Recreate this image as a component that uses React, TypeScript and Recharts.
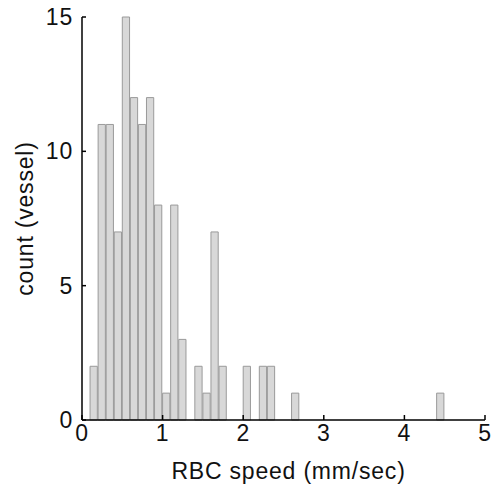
import React from "react";
import { BarChart, Bar, XAxis, YAxis, Label } from "recharts";

const binCenters = [0.15, 0.25, 0.35, 0.45, 0.55, 0.65, 0.75, 0.85, 0.95, 1.05, 1.15, 1.25, 1.45, 1.55, 1.65, 1.75, 2.05, 2.25, 2.35, 2.65, 4.45];
const counts = [2, 11, 11, 7, 15, 12, 11, 12, 8, 1, 8, 3, 2, 1, 7, 2, 2, 2, 2, 1, 1];
const xTicks = [0, 1, 2, 3, 4, 5];
const yTicks = [0, 5, 10, 15];
const xLabel = "RBC speed (mm/sec)";
const yLabel = "count (vessel)";

const data = binCenters.map((c, i) => ({ speed: c, count: counts[i] }));

const FONT = "'Liberation Sans', Arial, sans-serif";
const FS = 23;

export default function App() {
  return (
    <div style={{ position: "absolute", left: 0, top: 0 }}>
      <BarChart
        width={493}
        height={488}
        data={data}
        margin={{ top: 17, right: 8, bottom: 18, left: 0 }}
        barCategoryGap={0}
        barGap={0}
      >
        <XAxis
          dataKey="speed"
          type="number"
          domain={[0, 5]}
          ticks={xTicks}
          interval={0}
          height={50}
          allowDataOverflow
          tickSize={-5}
          tickMargin={10}
          stroke="#000"
          strokeWidth={1.5}
          tick={{ fill: "#111", fontSize: FS, fontFamily: FONT, letterSpacing: 0.8 }}
        >
          <Label
            content={(props: any) => {
              const vb = props.viewBox;
              return (
                <text
                  x={vb.x + vb.width / 2 + 5}
                  y={479}
                  textAnchor="middle"
                  fontSize={FS}
                  letterSpacing={0.8}
                  fontFamily={FONT}
                  fill="#111"
                >
                  {xLabel}
                </text>
              );
            }}
          />
        </XAxis>
        <YAxis
          type="number"
          domain={[0, 15]}
          ticks={yTicks}
          interval={0}
          width={82}
          tickSize={-4}
          tickMargin={13}
          stroke="#000"
          strokeWidth={1.5}
          tick={{ fill: "#111", fontSize: FS, fontFamily: FONT, letterSpacing: 0.8 }}
        >
          <Label
            content={(props: any) => {
              const vb = props.viewBox;
              const cx = 33;
              const cy = vb.y + vb.height / 2;
              return (
                <text
                  x={cx}
                  y={cy}
                  textAnchor="middle"
                  transform={`rotate(-90, ${cx}, ${cy})`}
                  fontSize={FS}
                  letterSpacing={0.8}
                  fontFamily={FONT}
                  fill="#111"
                >
                  {yLabel}
                </text>
              );
            }}
          />
        </YAxis>
        <Bar
          dataKey="count"
          fill="#d8d8d8"
          stroke="#9a9a9a"
          strokeWidth={1}
          barSize={8.06}
          isAnimationActive={false}
        />
      </BarChart>
    </div>
  );
}
